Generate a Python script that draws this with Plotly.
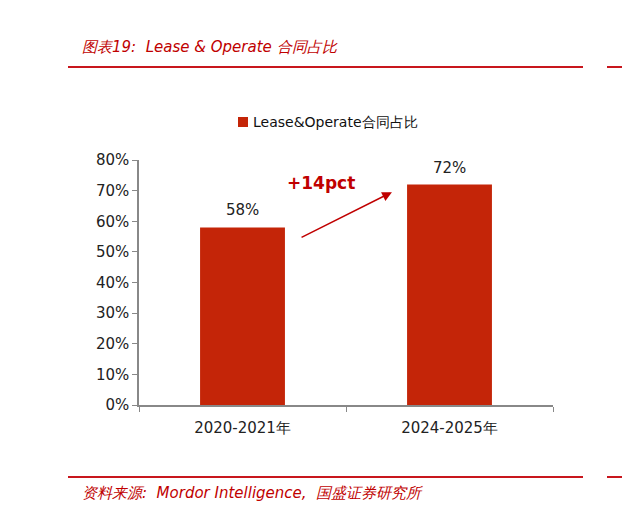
import plotly.graph_objects as go

categories = ["2020-2021年", "2024-2025年"]
values = [58, 72]
value_labels = ["58%", "72%"]
series_name = "Lease&Operate合同占比"
tick_vals = [0, 10, 20, 30, 40, 50, 60, 70, 80]
tick_text = ["0%", "10%", "20%", "30%", "40%", "50%", "60%", "70%", "80%"]
change_label = "+14pct"
title_text = "图表19:  Lease & Operate 合同占比"
source_text = "资料来源:  Mordor Intelligence,  国盛证券研究所"

W, H = 622, 510
L, R, T, B = 139, 553, 160, 405
pw, ph = R - L, B - T

def px(x):
    return (x - L) / pw

def py(y):
    return (B - y) / ph

BAR = "#C42508"
RED = "#C8161D"
FONT = "DejaVu Sans"

fig = go.Figure()
fig.add_trace(go.Bar(
    x=categories, y=values, name=series_name,
    marker=dict(color=BAR, line=dict(width=0)),
    width=0.41,
    showlegend=False,
))
for c, v, t in zip(categories, values, value_labels):
    fig.add_annotation(x=c, y=v, xref="x", yref="y", text=t, showarrow=False,
                       yanchor="bottom", yshift=6,
                       font=dict(size=15, color="#222", family=FONT))

fig.update_layout(
    width=W, height=H,
    margin=dict(l=L, r=W - R, t=T, b=H - B, pad=0),
    paper_bgcolor="white", plot_bgcolor="white",
    font=dict(family=FONT, color="#222"),
    showlegend=False,
    xaxis=dict(
        showline=True, linecolor="#888", linewidth=1.5,
        ticks="outside", ticklen=5, tickcolor="#888", tickson="boundaries",
        tickfont=dict(size=15, color="#222", family=FONT),
        ticklabelstandoff=8,
        showgrid=False, zeroline=False,
    ),
    yaxis=dict(
        range=[0, 80], tickmode="array", tickvals=tick_vals, ticktext=tick_text,
        showline=True, linecolor="#888", linewidth=1.5,
        ticks="outside", ticklen=5, tickcolor="#888",
        tickfont=dict(size=15, color="#222", family=FONT),
        showgrid=False, zeroline=False,
    ),
)

# manual legend
fig.add_shape(type="rect", xref="paper", yref="paper",
              x0=px(238), x1=px(248), y0=py(127), y1=py(117),
              fillcolor=BAR, line=dict(width=0))
fig.add_annotation(
    x=px(251), y=py(122), xref="paper", yref="paper", xanchor="left", yanchor="middle",
    text=series_name, showarrow=False, font=dict(size=14, color="#111", family=FONT),
)

# arrow between bars (in data coordinates of the category axis)
fig.add_annotation(
    x=0.722, y=69.5, ax=0.278, ay=54.5,
    xref="x", yref="y", axref="x", ayref="y",
    showarrow=True, arrowhead=2, arrowsize=1.3, arrowwidth=1.5,
    arrowcolor="#C00000", text="",
)
fig.add_annotation(
    x=0.38, y=72.5, xref="x", yref="y", text="<b>" + change_label + "</b>",
    showarrow=False, font=dict(size=17, color="#C00000", family=FONT),
)

# header / footer
fig.add_annotation(
    x=px(80), y=py(47), xref="paper", yref="paper", xanchor="left", yanchor="middle",
    text="<i>" + title_text + "</i>", showarrow=False,
    font=dict(size=15, color="#C00000", family=FONT),
)
fig.add_annotation(
    x=px(80), y=py(493), xref="paper", yref="paper", xanchor="left", yanchor="middle",
    text="<i>" + source_text + "</i>", showarrow=False,
    font=dict(size=15, color="#C00000", family=FONT),
)
for yy in (67, 477):
    fig.add_shape(type="line", xref="paper", yref="paper",
                  x0=px(68), x1=px(583), y0=py(yy), y1=py(yy),
                  line=dict(color=RED, width=2))
    fig.add_shape(type="line", xref="paper", yref="paper",
                  x0=px(607), x1=px(622), y0=py(yy), y1=py(yy),
                  line=dict(color=RED, width=2))

fig.write_html("out.html")
